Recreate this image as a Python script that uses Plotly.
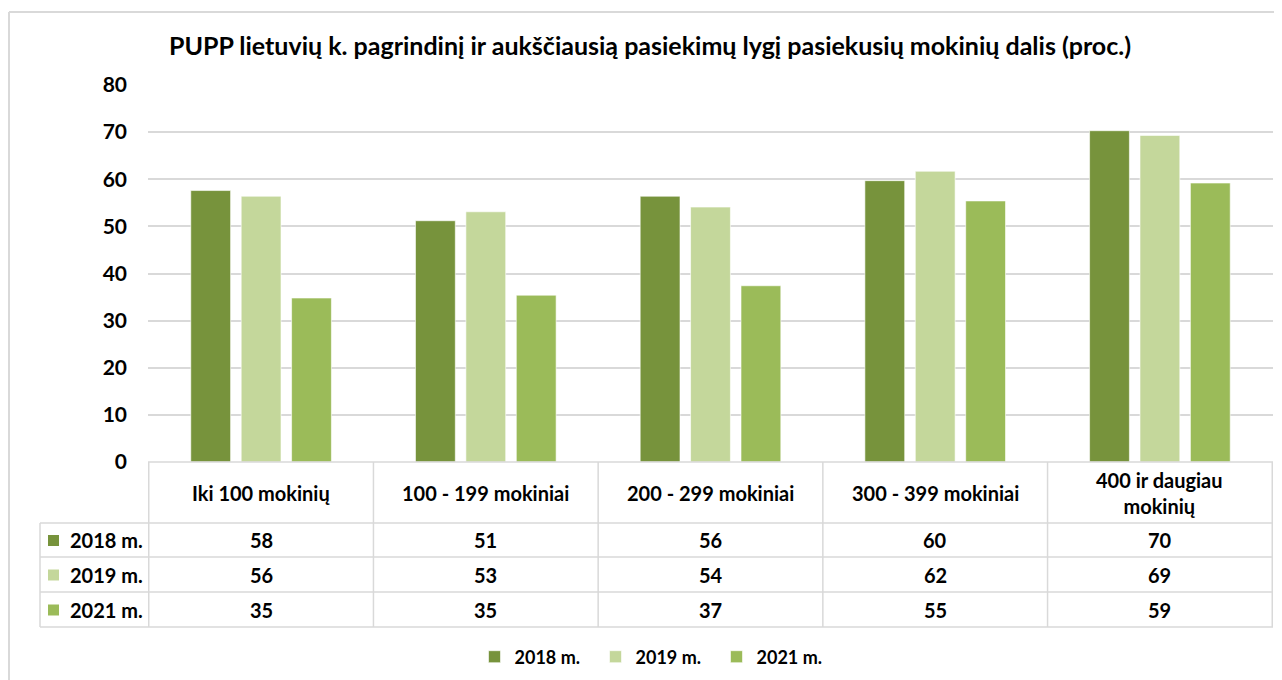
import plotly.graph_objects as go

categories = ["Iki 100 mokinių", "100 - 199 mokiniai", "200 - 299 mokiniai",
              "300 - 399 mokiniai", "400 ir daugiau mokinių"]
header_labels = ["Iki 100 mokinių", "100 - 199 mokiniai", "200 - 299 mokiniai",
                 "300 - 399 mokiniai", "400 ir daugiau<br>mokinių"]
series_names = ["2018 m.", "2019 m.", "2021 m."]
values_2018 = [57.6, 51.2, 56.4, 59.7, 70.3]
values_2019 = [56.4, 53.1, 54.1, 61.7, 69.3]
values_2021 = [34.8, 35.4, 37.4, 55.4, 59.2]
colors = ["#77933C", "#C4D79B", "#9BBB59"]
y_ticks = [0, 10, 20, 30, 40, 50, 60, 70, 80]
title_text = "PUPP lietuvių k. pagrindinį ir aukščiausią pasiekimų lygį pasiekusių mokinių dalis (proc.)"

all_values = [values_2018, values_2019, values_2021]

OFF = 8  # page offset of the figure in the screenshot
W, H = 1282, 680
SL, SR, ST, SB = 148, 1273, 85, 462
L, R, T, B = SL - OFF, SR - OFF, ST - OFF, SB - OFF
FONT = "Lato"
GRID = "#D9D9D9"


def px(xs):
    return (xs - OFF - L) / (R - L)


def py(ys):
    return (B - (ys - OFF)) / (B - T)


fig = go.Figure()
for name, vals, col in zip(series_names, all_values, colors):
    fig.add_trace(go.Bar(
        x=categories, y=vals, name=name,
        marker=dict(color=col, line=dict(color="rgba(255,255,255,0.6)", width=1)),
    ))

shapes = []
annotations = []

row_tops = [462, 523, 557, 592, 627]
label_left = 40
TF = dict(family=FONT, size=20, color="#000", weight="bold")

shapes.append(dict(type="line", xref="paper", yref="paper", x0=0, x1=1,
                   y0=py(row_tops[0]), y1=py(row_tops[0]), line=dict(color=GRID, width=1.5)))
for r in row_tops[1:]:
    shapes.append(dict(type="line", xref="paper", yref="paper", x0=px(label_left), x1=1,
                       y0=py(r), y1=py(r), line=dict(color=GRID, width=1.5)))
for i in range(len(categories) + 1):
    shapes.append(dict(type="line", xref="x", yref="paper", x0=i - 0.5, x1=i - 0.5,
                       y0=py(row_tops[0]), y1=py(row_tops[-1]), line=dict(color=GRID, width=1.5)))
shapes.append(dict(type="line", xref="paper", yref="paper", x0=px(label_left), x1=px(label_left),
                   y0=py(row_tops[1]), y1=py(row_tops[-1]), line=dict(color=GRID, width=1.5)))

for cat, lab in zip(categories, header_labels):
    annotations.append(dict(x=cat, xref="x", y=py((row_tops[0] + row_tops[1]) / 2), yref="paper",
                            text=lab, showarrow=False, font=TF,
                            xanchor="center", yanchor="middle"))
for ri, (name, vals, col) in enumerate(zip(series_names, all_values, colors)):
    yc = (row_tops[ri + 1] + row_tops[ri + 2]) / 2
    shapes.append(dict(type="rect", xref="paper", yref="paper", x0=px(48), x1=px(59),
                       y0=py(yc + 6), y1=py(yc - 5), fillcolor=col, line=dict(width=0)))
    annotations.append(dict(x=px(145), xref="paper", y=py(yc), yref="paper", text=name,
                            showarrow=False, font=TF, xanchor="right", yanchor="middle"))
    for cat, v in zip(categories, vals):
        annotations.append(dict(x=cat, xref="x", y=py(yc), yref="paper", text="%d" % round(v),
                                showarrow=False, font=TF, xanchor="center", yanchor="middle"))

shapes.append(dict(type="line", xref="paper", yref="paper", x0=px(9), x1=px(1300),
                   y0=py(12), y1=py(12), line=dict(color=GRID, width=2)))
shapes.append(dict(type="line", xref="paper", yref="paper", x0=px(9), x1=px(9),
                   y0=py(12), y1=py(700), line=dict(color=GRID, width=2)))

fig.update_layout(
    width=W, height=H,
    margin=dict(l=L, r=W - R, t=T, b=H - B, pad=0),
    paper_bgcolor="white", plot_bgcolor="white",
    title=dict(text=title_text, x=(650 - OFF) / W, xanchor="center",
               y=1 - (46 - OFF) / H, yanchor="middle",
               font=dict(family=FONT, size=25, color="#000", weight="bold")),
    barmode="group", bargap=0.327, bargroupgap=0.21,
    font=dict(family=FONT, color="#000"),
    yaxis=dict(range=[0, 80], tickvals=y_ticks, showgrid=True, gridcolor=GRID, gridwidth=1.5,
               zeroline=False, showline=False, ticks="", ticklabelstandoff=20,
               tickfont=dict(family=FONT, size=21, color="#000", weight="bold")),
    xaxis=dict(showticklabels=False, showline=False, showgrid=False, ticks="", zeroline=False),
    showlegend=True,
    legend=dict(orientation="h", x=px(656), xanchor="center", y=py(657), yanchor="middle",
                font=dict(family=FONT, size=18, color="#000", weight="bold"),
                itemwidth=30, traceorder="normal", entrywidth=76, entrywidthmode="pixels"),
    shapes=shapes, annotations=annotations,
)

fig.write_html("out.html")
